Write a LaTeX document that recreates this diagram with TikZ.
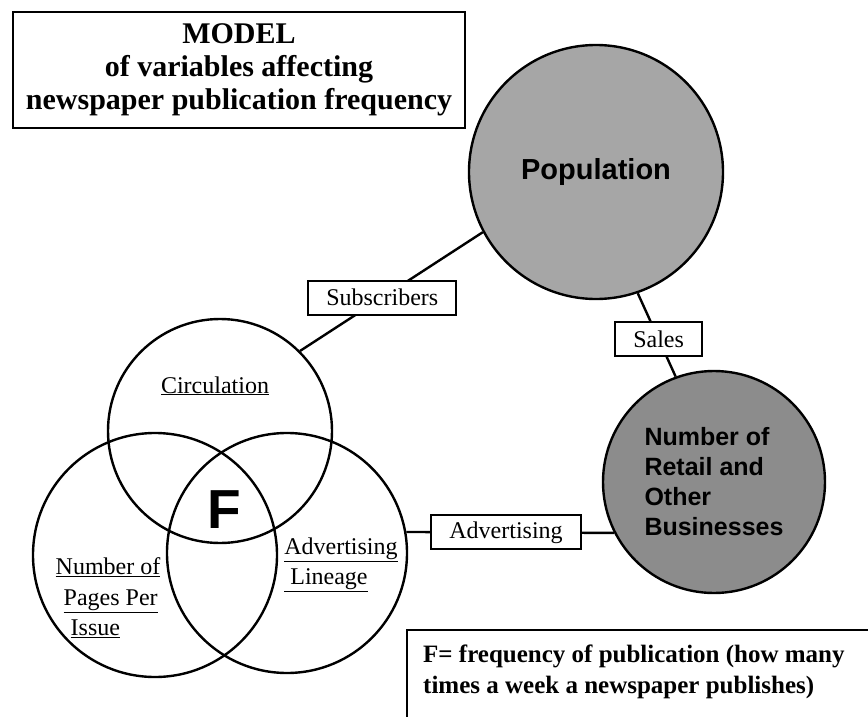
\documentclass[tikz,border=0pt]{standalone}
\usepackage{fontspec}
\setmainfont{Liberation Serif}
\newfontfamily\helv{Liberation Sans}

\begin{document}
\begin{tikzpicture}[x=1pt, y=-1pt,
    venn/.style={circle, draw, line width=2.4pt, minimum size=#1, inner sep=0pt},
    blob/.style={circle, draw, line width=2.4pt, minimum size=#1, inner sep=0pt},
    tag/.style={draw, fill=white, line width=2pt, inner xsep=18pt, minimum height=34pt,
      font=\fontsize{24}{28}\selectfont},
    lbl/.style={inner sep=0pt, align=left, font=\fontsize{24}{30.5}\selectfont},
    link/.style={line width=2.4pt}]
  \useasboundingbox (0,0) rectangle (868,717);
  \path[clip] (0,0) rectangle (868,717);

  \node[draw, line width=2pt, minimum width=452pt, minimum height=116pt, align=center,
    font=\bfseries\fontsize{30}{33}\selectfont] (title) at (239,70)
    {MODEL\\of variables affecting\\newspaper publication frequency};

  \node[blob=254pt, fill=black!35, font=\helv\bfseries\fontsize{29}{29}\selectfont] (pop) at (596,172) {Population};
  \node[blob=222pt, fill=black!45, align=left, font=\helv\bfseries\fontsize{25}{30}\selectfont] (biz) at (714,482)
    {Number of\\Retail and\\Other\\Businesses};

  \node[venn=224pt] (circ) at (220,431) {};
  \node[venn=244pt] (pages) at (155,555) {};
  \node[venn=240pt] (lineage) at (287,553) {};

  \node[inner sep=0pt, font=\helv\bfseries\fontsize{55}{55}\selectfont] (f) at (224,510) {F};
  \node[lbl, anchor=base] (circlbl) at (215,393) {\underline{Circulation}};
  \node[lbl] (pageslbl) at (108,598)
    {\underline{Number of}\\\hspace{8pt}\underline{Pages Per}\\\hspace{15pt}\underline{Issue}};
  \node[lbl] (linlbl) at (341,565) {\underline{Advertising}\\\underline{\ Lineage}};

  \draw[link] (circ.45) -- node[tag, pos=0.45] (subs) {Subscribers} (pop.208);
  \draw[link] (pop.289) -- node[tag, pos=0.55] (sales) {Sales} (biz.110);
  \draw[link] (lineage.10) -- node[tag, pos=0.48] (adv) {Advertising} (biz.207);

  \draw[line width=2pt] (407,630) rectangle (890,740);
  \node[anchor=base west, align=left, inner sep=0pt, font=\bfseries\fontsize{25}{31}\selectfont] (note) at (423,693)
    {F= frequency of publication (how many\\times a week a newspaper publishes)};
\end{tikzpicture}
\end{document}
